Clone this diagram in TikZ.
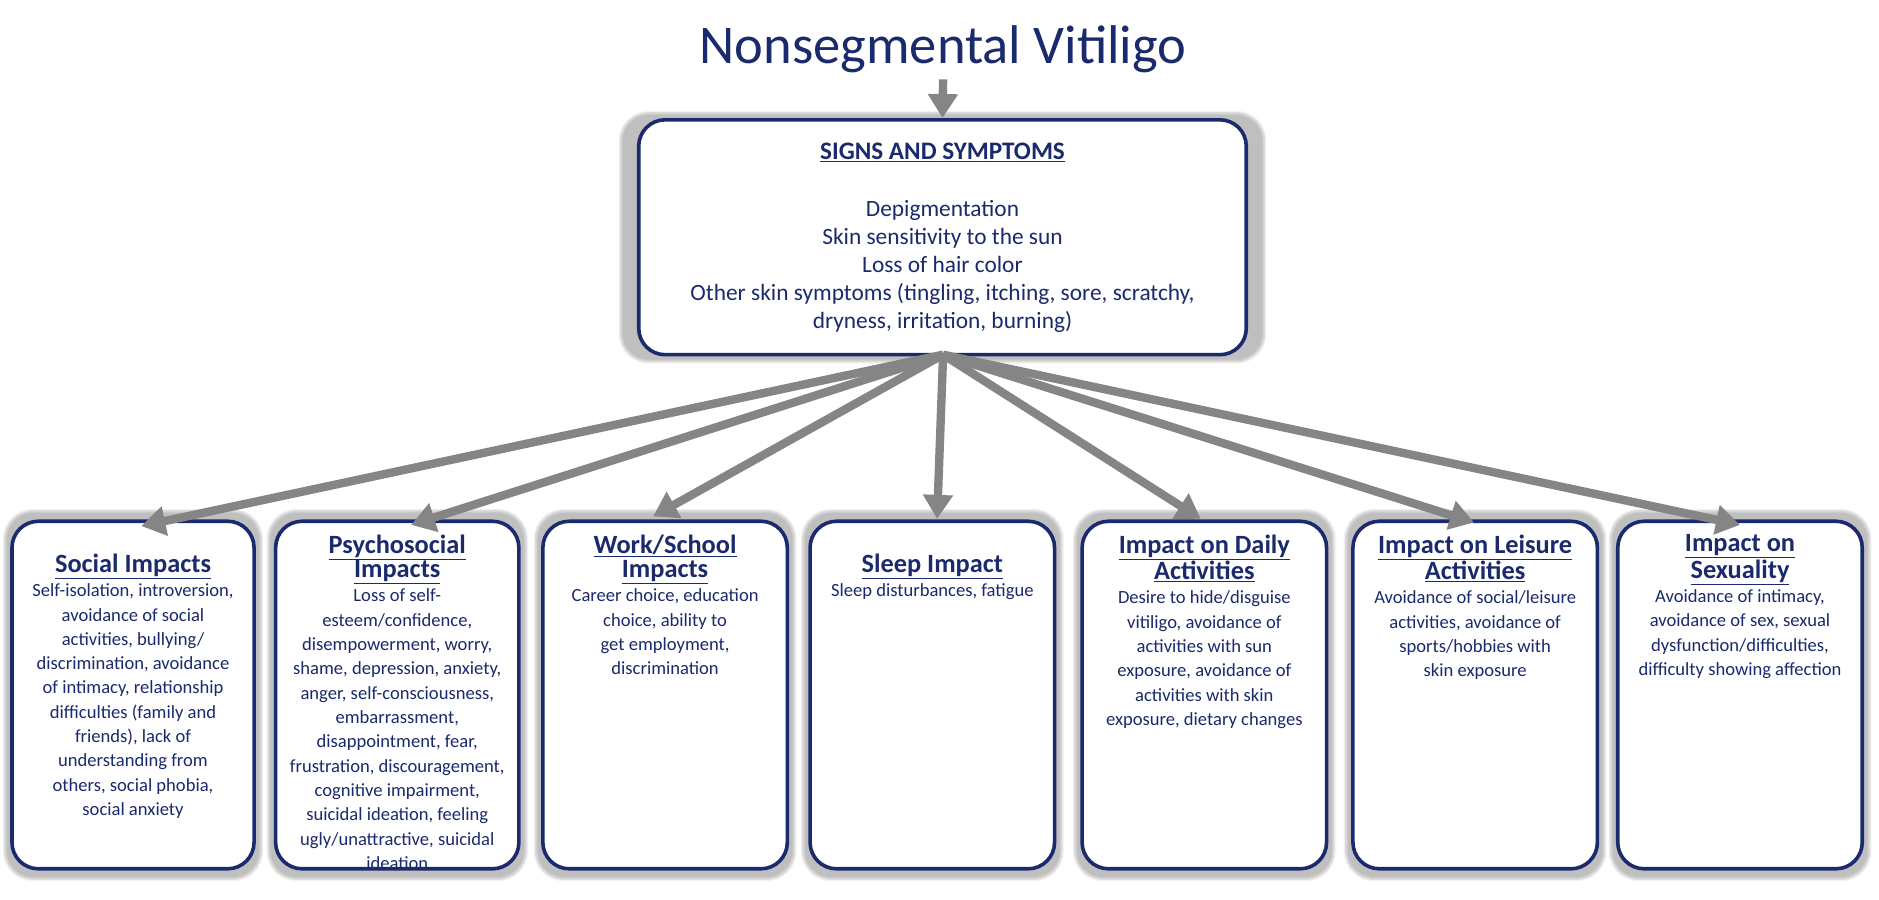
\documentclass[tikz,border=0pt]{standalone}
\usepackage{fontspec}
\setmainfont{Carlito}
\usetikzlibrary{shadows.blur,arrows.meta}
\definecolor{navy}{HTML}{1A2A6C}
\definecolor{arrowgray}{HTML}{858585}
\tikzset{
  panel/.style={draw=navy, line width=3pt, fill=white, rounded corners=22pt,
    blur shadow={shadow xshift=0pt, shadow yshift=0pt, shadow scale=1.06, shadow blur steps=10, shadow opacity=25}},
  paneltext/.style={anchor=north, align=center, text=navy, inner sep=0pt,
    font=\fontsize{15.5}{20.3}\selectfont},
  fatarrow/.style={draw=arrowgray, line width=7pt, -{Triangle[width=24pt,length=20pt]}}
}
\newcommand{\headline}[1]{{\fontsize{22}{26}\selectfont\bfseries\underline{#1}}}
\begin{document}
\begin{tikzpicture}[x=1pt, y=1pt]
  \useasboundingbox (0,0) rectangle (1568,751);
  % title
  \node[text=navy, font=\fontsize{45.5}{50}\selectfont] (title) at (787,710) {Nonsegmental Vitiligo};
  % top panel
  \node[panel, minimum width=507pt, minimum height=196pt] (signs) at (786.5,553) {};
  \node[paneltext, font=\fontsize{19.5}{23.5}\selectfont] (signstext) at (786.5,632)
    {{\fontsize{21}{24}\selectfont\bfseries\underline{SIGNS AND SYMPTOMS}}\\[24pt]
     Depigmentation\\ Skin sensitivity to the sun\\ Loss of hair color\\
     Other skin symptoms (tingling, itching, sore, scratchy,\\ dryness, irritation, burning)};
  \draw[fatarrow] (title.south) ++(0,-2) coordinate (ttop) -- (signs.north);
  % bottom panels
  \node[panel, minimum width=202pt, minimum height=290pt] (social) at (111,171) {};
  \node[panel, minimum width=203pt, minimum height=290pt] (psycho) at (331.5,171) {};
  \node[panel, minimum width=204pt, minimum height=290pt] (work) at (555,171) {};
  \node[panel, minimum width=204pt, minimum height=290pt] (sleep) at (778,171) {};
  \node[panel, minimum width=204pt, minimum height=290pt] (daily) at (1005,171) {};
  \node[panel, minimum width=204pt, minimum height=290pt] (leisure) at (1231,171) {};
  \node[panel, minimum width=204pt, minimum height=290pt] (sexual) at (1452,171) {};
  % panel texts
  \node[paneltext] (socialtext) at (111,289)
    {\headline{Social Impacts}\\ Self-isolation, introversion,\\ avoidance of social\\ activities, bullying/\\ discrimination, avoidance\\ of intimacy, relationship\\ difficulties (family and\\ friends), lack of\\ understanding from\\ others, social phobia,\\ social anxiety};
  \node[paneltext] (psychotext) at (331.5,305)
    {\headline{Psychosocial}\\ \headline{Impacts}\\ Loss of self-\\ esteem/confidence,\\ disempowerment, worry,\\ shame, depression, anxiety,\\ anger, self-consciousness,\\ embarrassment,\\ disappointment, fear,\\ frustration, discouragement,\\ cognitive impairment,\\ suicidal ideation, feeling\\ ugly/unattractive, suicidal\\ ideation};
  \node[paneltext] (worktext) at (555,305)
    {\headline{Work/School}\\ \headline{Impacts}\\ Career choice, education\\ choice, ability to\\ get employment,\\ discrimination};
  \node[paneltext] (sleeptext) at (778,289)
    {\headline{Sleep Impact}\\ Sleep disturbances, fatigue};
  \node[paneltext] (dailytext) at (1005,305)
    {\headline{Impact on Daily}\\ \headline{Activities}\\ Desire to hide/disguise\\ vitiligo, avoidance of\\ activities with sun\\ exposure, avoidance of\\ activities with skin\\ exposure, dietary changes};
  \node[paneltext] (leisuretext) at (1231,305)
    {\headline{Impact on Leisure}\\ \headline{Activities}\\ Avoidance of social/leisure\\ activities, avoidance of\\ sports/hobbies with\\ skin exposure};
  \node[paneltext] (sexualtext) at (1452,305)
    {\headline{Impact on}\\ \headline{Sexuality}\\ Avoidance of intimacy,\\ avoidance of sex, sexual\\ dysfunction/difficulties,\\ difficulty showing affection};
  % arrows
  \coordinate (hub) at (787,455);
  \draw[fatarrow] (hub) -- (118,312);
  \draw[fatarrow] (hub) -- (343,313);
  \draw[fatarrow] (hub) -- (545,320);
  \draw[fatarrow] (hub) -- (782,318);
  \draw[fatarrow] (hub) -- (1002,318);
  \draw[fatarrow] (hub) -- (1230,315);
  \draw[fatarrow] (hub) -- (1452,313);
\end{tikzpicture}
\end{document}
